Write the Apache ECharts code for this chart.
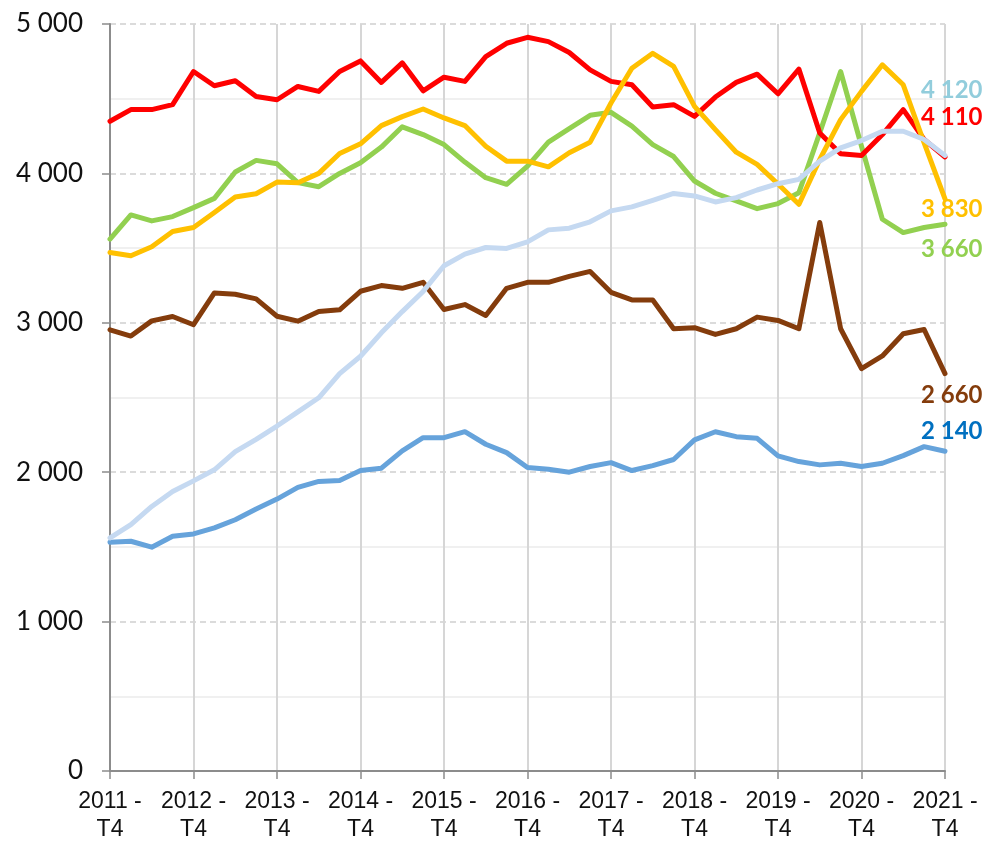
<!DOCTYPE html>
<html>
<head>
<meta charset="utf-8">
<script src="https://cdn.jsdelivr.net/npm/echarts@6/dist/echarts.min.js"></script>
<style>html,body{margin:0;padding:0;background:#fff}#c{width:988px;height:844px}</style>
</head>
<body>
<div id="c"></div>
<script>
var categories = ['2011 - T4','2012 - T1','2012 - T2','2012 - T3','2012 - T4','2013 - T1','2013 - T2','2013 - T3','2013 - T4','2014 - T1','2014 - T2','2014 - T3','2014 - T4','2015 - T1','2015 - T2','2015 - T3','2015 - T4','2016 - T1','2016 - T2','2016 - T3','2016 - T4','2017 - T1','2017 - T2','2017 - T3','2017 - T4','2018 - T1','2018 - T2','2018 - T3','2018 - T4','2019 - T1','2019 - T2','2019 - T3','2019 - T4','2020 - T1','2020 - T2','2020 - T3','2020 - T4','2021 - T1','2021 - T2','2021 - T3','2021 - T4'];

var seriesRed = [4349,4427,4427,4460,4682,4587,4620,4515,4493,4582,4549,4682,4753,4609,4740,4553,4644,4616,4782,4871,4911,4882,4809,4693,4616,4593,4444,4460,4382,4511,4609,4664,4533,4698,4270,4131,4120,4260,4427,4227,4110];
var seriesGold = [3471,3449,3509,3611,3638,3738,3842,3864,3942,3938,4000,4133,4198,4320,4380,4431,4371,4320,4182,4082,4082,4044,4138,4209,4471,4704,4804,4716,4449,4293,4142,4060,3929,3793,4093,4360,4549,4727,4593,4204,3830];
var seriesGreen = [3560,3722,3682,3711,3771,3833,4009,4087,4064,3938,3911,4000,4071,4176,4312,4260,4193,4076,3971,3927,4049,4209,4300,4389,4409,4316,4193,4113,3949,3867,3816,3764,3798,3871,4271,4682,4182,3693,3604,3638,3660];
var seriesLightBlue = [1560,1649,1771,1871,1942,2016,2138,2220,2309,2404,2498,2660,2776,2933,3075,3210,3382,3460,3504,3498,3542,3622,3633,3676,3749,3776,3820,3866,3849,3809,3838,3889,3931,3960,4082,4171,4220,4282,4282,4227,4120];
var seriesBrown = [2953,2911,3013,3042,2987,3200,3191,3160,3044,3011,3076,3087,3211,3249,3231,3271,3089,3122,3049,3231,3271,3271,3311,3344,3204,3153,3153,2960,2967,2922,2960,3038,3016,2960,3671,2960,2693,2778,2927,2955,2660];
var seriesBlue = [1531,1538,1498,1571,1587,1627,1682,1753,1820,1898,1938,1944,2011,2027,2143,2231,2231,2271,2187,2131,2031,2020,2000,2038,2064,2011,2044,2085,2216,2271,2238,2227,2109,2071,2049,2060,2038,2060,2111,2171,2140];

var yTicks = [0,1000,2000,3000,4000,5000];

function fmt(v){ return String(v).replace(/\B(?=(\d{3})+(?!\d))/g, ' '); }

function mk(name, data, lineColor, labelColor, dy, z){
  return {
    name: name, type: 'line', data: data, showSymbol: false, symbol: 'none',
    z: z, animation: false,
    lineStyle: { color: lineColor, width: 5, join: 'round', cap: 'round' },
    itemStyle: { color: lineColor },
    endLabel: {
      show: true, distance: 0, offset: [-24, dy], align: 'left', verticalAlign: 'middle',
      fontFamily: 'Lato', fontSize: 24, fontWeight: 'bold', color: labelColor,
      formatter: function(p){ return fmt(p.value); }
    }
  };
}

var chart = echarts.init(document.getElementById('c'), null, {renderer: 'canvas'});
chart.setOption({
  animation: false,
  backgroundColor: '#ffffff',
  grid: { left: 110, top: 24, right: 43, bottom: 70, containLabel: false },
  xAxis: {
    type: 'category', data: categories, boundaryGap: false,
    axisLine: { show: true, lineStyle: { color: '#8c8c8c', width: 2 } },
    axisTick: { show: true, interval: 3, length: 8, lineStyle: { color: '#8c8c8c', width: 1.5 } },
    axisLabel: {
      interval: 3, margin: 17, fontFamily: 'Liberation Sans', fontSize: 23, color: '#111',
      lineHeight: 28,
      formatter: function(v){ return v.replace(' - ', ' -\n'); }
    },
    splitLine: { show: true, interval: 3, lineStyle: { color: '#d6d6d6', width: 2 } }
  },
  yAxis: {
    type: 'value', min: yTicks[0], max: yTicks[yTicks.length-1], interval: 1000,
    axisLine: { show: true, lineStyle: { color: '#8c8c8c', width: 2 } },
    axisTick: { show: true, length: 8, lineStyle: { color: '#8c8c8c', width: 1.5 } },
    axisLabel: { margin: 27, fontFamily: 'Lato', fontSize: 26, color: '#111', formatter: function(v){ return fmt(v); } },
    splitLine: { show: true, lineStyle: { color: '#d0d0d0', width: 1.5, type: [6, 4] } },
    minorTick: { show: false, splitNumber: 2 },
    minorSplitLine: { show: true, lineStyle: { color: '#ececec', width: 1.5 } }
  },
  series: [
    mk('Série 6', seriesBlue, '#66A3DB', '#0070C0', -20, 2),
    mk('Série 5', seriesBrown, '#843C0C', '#843C0C', 22, 3),
    mk('Série 3', seriesGreen, '#92D050', '#92D050', 25, 4),
    mk('Série 1', seriesRed, '#FF0000', '#FF0000', -40, 5),
    mk('Série 2', seriesGold, '#FFC000', '#FFC000', 10, 6),
    mk('Série 4', seriesLightBlue, '#C5D9F1', '#92CDDC', -65, 7)
  ]
});
</script>
</body>
</html>
